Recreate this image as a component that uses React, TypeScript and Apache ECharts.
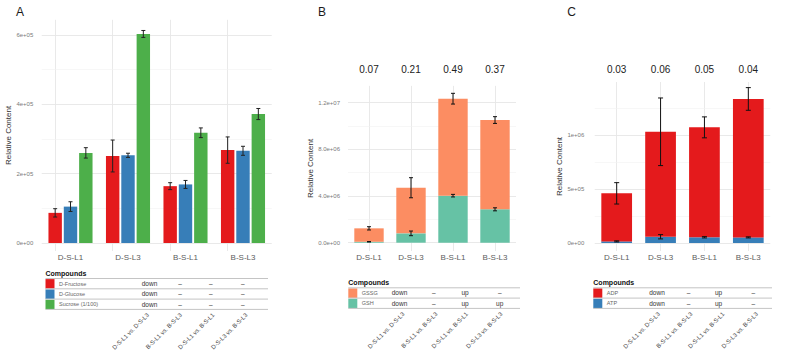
import React, { useEffect, useRef } from "react";
import * as echarts from "echarts";

const FONT = '"Liberation Sans", Arial, Helvetica, sans-serif';

const categories = ["D-S-L1", "D-S-L3", "B-S-L1", "B-S-L3"];
const comparisons = ["D-S-L1 vs. D-S-L3", "B-S-L1 vs. B-S-L3", "D-S-L1 vs. B-S-L1", "D-S-L3 vs. B-S-L3"];

// Panel A (sugars)
const namesA = ["D-Fructose", "D-Glucose", "Sucrose (1/100)"];
const fructose = [87000, 251000, 164000, 268000];
const fructoseErr = [12000, 46000, 10000, 38000];
const glucose = [105000, 253000, 169000, 266000];
const glucoseErr = [14000, 6000, 11500, 13000];
const sucrose = [260000, 603000, 318000, 372000];
const sucroseErr = [15000, 10000, 14000, 16000];
const regsA = [
  ["down", "–", "–", "–"],
  ["down", "–", "–", "–"],
  ["down", "–", "–", "–"],
];
const ticksA = [0, 200000, 400000, 600000];
const tickLabelsA = ["0e+00", "2e+05", "4e+05", "6e+05"];
const minorA = [100000, 300000, 500000];

// Panel B (glutathione)
const namesB = ["GSSG", "GSH"];
const gsh = [80000, 800000, 4030000, 2860000];
const gshErr = [20000, 200000, 110000, 130000];
const gssg = [1150000, 3910000, 8310000, 7650000];
const gssgErr = [140000, 860000, 460000, 290000];
const ratioB = [0.07, 0.21, 0.49, 0.37];
const regsB = [
  ["down", "–", "up", "–"],
  ["down", "–", "up", "up"],
];
const ticksB = [0, 4000000, 8000000, 12000000];
const tickLabelsB = ["0.0e+00", "4.0e+06", "8.0e+06", "1.2e+07"];
const minorB = [2000000, 6000000, 10000000];

// Panel C (adenylates)
const namesC = ["ADP", "ATP"];
const atp = [15000, 58000, 53000, 52000];
const atpErr = [5000, 20000, 6000, 5000];
const adp = [445000, 972000, 1018000, 1282000];
const adpErr = [99000, 313000, 97000, 105000];
const ratioC = [0.03, 0.06, 0.05, 0.04];
const regsC = [
  ["down", "–", "up", "–"],
  ["down", "–", "up", "–"],
];
const ticksC = [0, 500000, 1000000];
const tickLabelsC = ["0e+00", "5e+05", "1e+06"];
const minorC = [250000, 750000, 1250000];

const RED = "#E41A1C";
const BLUE = "#377EB8";
const GREEN = "#4DAF4A";
const ORANGE = "#FC8D62";
const TEAL = "#66C2A5";

function gridLines(majors: number[], minors: number[]) {
  const major = { color: "#e6e6e6", width: 0.9, type: "solid" };
  const minor = { color: "#f2f2f2", width: 0.6, type: "solid" };
  return {
    silent: true,
    symbol: ["none", "none"],
    z: 1,
    label: { show: false },
    emphasis: { disabled: true },
    animation: false,
    data: [
      ...categories.map((c) => ({ xAxis: c, lineStyle: major })),
      ...majors.map((v) => ({ yAxis: v, lineStyle: major })),
      ...minors.map((v) => ({ yAxis: v, lineStyle: minor })),
    ],
  };
}

function errSeries(idx: number, data: number[][], dodge: number, cap: number, color: string) {
  return {
    type: "custom",
    xAxisIndex: idx,
    yAxisIndex: idx,
    z: 4,
    silent: true,
    clip: false,
    data,
    encode: { x: 0, y: 1 },
    renderItem: (params: any, api: any) => {
      const i = api.value(0);
      const v = api.value(1);
      const e = api.value(2);
      const k = api.value(3);
      const band = api.size([1, 0])[0];
      const dx = (k - 1) * band * dodge;
      const top = api.coord([i, v + e]);
      const bot = api.coord([i, v - e]);
      const x = top[0] + dx;
      const w = cap / 2;
      const st = { stroke: color, lineWidth: 1 };
      return {
        type: "group",
        children: [
          { type: "line", shape: { x1: x, y1: top[1], x2: x, y2: bot[1] }, style: st },
          { type: "line", shape: { x1: x - w, y1: top[1], x2: x + w, y2: top[1] }, style: st },
          { type: "line", shape: { x1: x - w, y1: bot[1], x2: x + w, y2: bot[1] }, style: st },
        ],
      };
    },
  };
}

function ratioSeries(idx: number, ratios: number[], y: number) {
  return {
    type: "custom",
    xAxisIndex: idx,
    yAxisIndex: idx,
    z: 4,
    silent: true,
    clip: false,
    data: ratios.map((r, i) => [i, 0, r]),
    encode: { x: 0, y: 1 },
    renderItem: (params: any, api: any) => {
      const p = api.coord([api.value(0), 0]);
      return {
        type: "text",
        x: p[0],
        y,
        style: {
          text: api.value(2).toFixed(2),
          fontSize: 10,
          fontFamily: FONT,
          fill: "#222",
          align: "center",
          textAlign: "center",
          verticalAlign: "middle",
          textVerticalAlign: "middle",
        },
      };
    },
  };
}

function makeTable(
  x0: number,
  headerY: number,
  top: number,
  right: number,
  rowH: number,
  names: string[],
  colors: string[],
  regs: string[][],
  colX: number[],
  labelX: number[],
  labelY: number
) {
  const els: any[] = [];
  const txt = (x: number, y: number, text: string, size: number, fill: string, align: string, extra: any = {}) => ({
    type: "text",
    x,
    y,
    ...extra,
    style: {
      text,
      fontSize: size,
      fontFamily: FONT,
      fill,
      align,
      textAlign: align,
      verticalAlign: "middle",
      textVerticalAlign: "middle",
      ...(extra.style || {}),
    },
  });
  els.push(txt(x0, headerY, "Compounds", 7, "#111", "left", { style: { fontWeight: "bold" } }));
  names.forEach((n, r) => {
    const y = top + r * rowH;
    els.push({ type: "rect", shape: { x: x0, y: y + 0.6, width: 9, height: rowH - 0.8 }, style: { fill: colors[r] } });
    els.push(txt(x0 + 13.5, y + rowH / 2, n, 5.5, "#666", "left"));
    regs[r].forEach((t, j) => els.push(txt(colX[j], y + rowH / 2, t, 6.5, "#333", "center")));
  });
  for (let r = 0; r <= names.length; r++) {
    const y = top + r * rowH;
    els.push({ type: "line", shape: { x1: x0, y1: y, x2: right, y2: y }, style: { stroke: "#c4c4c4", lineWidth: 1 } });
  }
  comparisons.forEach((c, j) =>
    els.push({
      type: "text",
      x: labelX[j],
      y: labelY,
      rotation: Math.PI / 4,
      style: {
        text: c,
        fontSize: 6,
        fontFamily: FONT,
        fill: "#444",
        align: "right",
        textAlign: "right",
        verticalAlign: "middle",
        textVerticalAlign: "middle",
      },
    })
  );
  return els;
}

function yAxis(idx: number, min: number, max: number, ticks: number[], labels: string[], margin: number, nameGap: number) {
  return {
    type: "value",
    gridIndex: idx,
    min,
    max,
    name: "Relative Content",
    nameLocation: "middle",
    nameGap,
    nameTextStyle: { fontSize: 8, color: "#333", fontFamily: FONT },
    axisLine: { show: false },
    axisTick: { show: false },
    splitLine: { show: false },
    axisLabel: {
      customValues: ticks,
      fontSize: 6,
      color: "#7a7a7a",
      fontFamily: FONT,
      margin,
      formatter: (v: number) => {
        const k = ticks.findIndex((t) => Math.abs(t - v) < 1);
        return k >= 0 ? labels[k] : "";
      },
    },
  };
}

function xAxis(idx: number, margin: number) {
  return {
    type: "category",
    gridIndex: idx,
    data: categories,
    axisLine: { show: false },
    axisTick: { show: false },
    splitLine: { show: false },
    axisLabel: { fontSize: 8, color: "#5c5c5c", fontFamily: FONT, margin },
  };
}

const letter = (x: number, text: string) => ({
  type: "text",
  x,
  y: 11.5,
  style: {
    text,
    fontSize: 12,
    fontFamily: FONT,
    fill: "#1a1a1a",
    align: "center",
    textAlign: "center",
    verticalAlign: "middle",
    textVerticalAlign: "middle",
  },
});

export default function App() {
  const ref = useRef<HTMLDivElement>(null);
  useEffect(() => {
    if (!ref.current) return;
    const chart = echarts.init(ref.current, undefined, { renderer: "svg" });
    const errA = [
      ...fructose.map((v, i) => [i, v, fructoseErr[i], 0]),
      ...glucose.map((v, i) => [i, v, glucoseErr[i], 1]),
      ...sucrose.map((v, i) => [i, v, sucroseErr[i], 2]),
    ];
    const errB = [
      ...gsh.map((v, i) => [i, v, gshErr[i], 1]),
      ...gssg.map((v, i) => [i, v + gsh[i], gssgErr[i], 1]),
    ];
    const errC = [
      ...atp.map((v, i) => [i, v, atpErr[i], 1]),
      ...adp.map((v, i) => [i, v + atp[i], adpErr[i], 1]),
    ];
    const barA = { type: "bar", xAxisIndex: 0, yAxisIndex: 0, barWidth: "23.33%", barGap: "14.29%", z: 2, silent: true };
    const option: any = {
      animation: false,
      backgroundColor: "#ffffff",
      textStyle: { fontFamily: FONT },
      grid: [
        { left: 41.75, top: 19.8, width: 230, height: 231.2, containLabel: false, outerBoundsMode: "none" },
        { left: 348, top: 85.9, width: 168, height: 165.1, containLabel: false, outerBoundsMode: "none" },
        { left: 594.75, top: 82, width: 175.5, height: 169, containLabel: false, outerBoundsMode: "none" },
      ],
      xAxis: [xAxis(0, 2), xAxis(1, 2.5), xAxis(2, 2.5)],
      yAxis: [
        yAxis(0, -23000, 643800, ticksA, tickLabelsA, 8.5, 26.3),
        yAxis(1, -711000, 13436000, ticksB, tickLabelsB, 8, 30.2),
        yAxis(2, -74000, 1491000, ticksC, tickLabelsC, 10.5, 27),
      ],
      series: [
        { ...barA, name: namesA[0], data: fructose, itemStyle: { color: RED }, markLine: gridLines(ticksA, minorA) },
        { ...barA, name: namesA[1], data: glucose, itemStyle: { color: BLUE } },
        { ...barA, name: namesA[2], data: sucrose, itemStyle: { color: GREEN } },
        errSeries(0, errA, 0.8 / 3, 4, "#222"),
        {
          type: "bar", xAxisIndex: 1, yAxisIndex: 1, stack: "B", barWidth: "70%", z: 2, silent: true,
          name: namesB[1], data: gsh, itemStyle: { color: TEAL }, markLine: gridLines(ticksB, minorB),
        },
        {
          type: "bar", xAxisIndex: 1, yAxisIndex: 1, stack: "B", barWidth: "70%", z: 2, silent: true,
          name: namesB[0], data: gssg, itemStyle: { color: ORANGE },
        },
        errSeries(1, errB, 0, 4, "#111"),
        ratioSeries(1, ratioB, 69),
        {
          type: "bar", xAxisIndex: 2, yAxisIndex: 2, stack: "C", barWidth: "70%", z: 2, silent: true,
          name: namesC[1], data: atp, itemStyle: { color: BLUE }, markLine: gridLines(ticksC, minorC),
        },
        {
          type: "bar", xAxisIndex: 2, yAxisIndex: 2, stack: "C", barWidth: "70%", z: 2, silent: true,
          name: namesC[0], data: adp, itemStyle: { color: RED },
        },
        errSeries(2, errC, 0, 5, "#111"),
        ratioSeries(2, ratioC, 69),
      ],
      graphic: [
        letter(20, "A"),
        letter(322, "B"),
        letter(571.5, "C"),
        ...makeTable(45.5, 273, 278.5, 268, 10.3, namesA, [RED, BLUE, GREEN], regsA,
          [149.5, 180, 210.7, 242.7], [148, 181, 213.5, 246.5], 314),
        ...makeTable(348.3, 282, 287.8, 520, 10.3, namesB, [ORANGE, TEAL], regsB,
          [399.5, 433.7, 465, 499.7], [403.5, 436.5, 467, 501.5], 313),
        ...makeTable(593.3, 282, 287.8, 772, 10.3, namesC, [RED, BLUE], regsC,
          [657, 688.5, 718.5, 753.3], [659, 691.5, 723.5, 757], 313),
      ],
    };
    chart.setOption(option);
    return () => chart.dispose();
  }, []);
  return (
    <div
      ref={ref}
      style={{ position: "fixed", left: 0, top: 0, width: 790, height: 351, background: "#fff" }}
    />
  );
}
